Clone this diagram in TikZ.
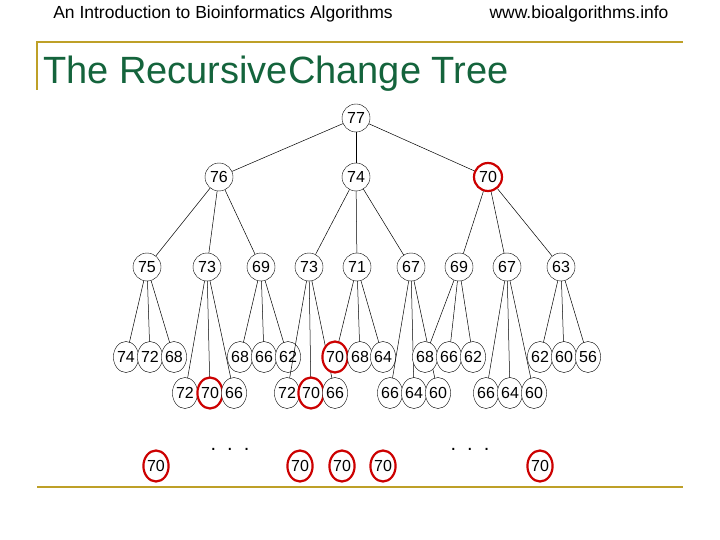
\documentclass[tikz,border=0pt]{standalone}
\usepackage{fontspec}
\setmainfont{Liberation Sans}
\usetikzlibrary{positioning}
\definecolor{olivebar}{RGB}{190,160,40}
\definecolor{titlegreen}{RGB}{20,100,60}
\tikzset{
  every node/.style={inner sep=0pt},
  big/.style={circle, draw, minimum size=28pt, font=\fontsize{16}{16}\selectfont},
  small/.style={ellipse, draw, minimum width=24pt, minimum height=31pt, font=\fontsize{16}{16}\selectfont},
  hit/.style={draw=red!80!black, line width=2.2pt},
  edge/.style={draw, line width=0.5pt}
}
\usetikzlibrary{shapes.geometric}
\begin{document}
\begin{tikzpicture}[x=1pt,y=-1pt]
  \useasboundingbox (0,0) rectangle (720,540);
  % header
  \node (head) at (223,14) {\fontsize{17.5}{17.5}\selectfont An Introduction to Bioinformatics Algorithms};
  \node (site) at (579,14) {\fontsize{17.5}{17.5}\selectfont www.bioalgorithms.info};
  \draw [olivebar, line width=2.5pt] (37,90) -- (37,42) -- (683,42);
  \node [anchor=west, text=titlegreen] (title) at (43,74) {\fontsize{38}{38}\selectfont The RecursiveChange Tree};
  \draw [olivebar, line width=2.5pt] (37,487) -- (683,487);
  % levels 0 and 1
  \node [big] (r) at (356,118) {77};
  \node [big] (a) at (219,177) {76};
  \node [big] (b) at (356,177) {74};
  \node [big, hit] (c) at (488,177) {70};
  \foreach \p in {a,b,c} \draw [edge] (r) -- (\p);
  % level 2
  \foreach \n/\x/\t/\p in {a1/147/75/a, a2/207/73/a, a3/261/69/a,
      b1/309/73/b, b2/357/71/b, b3/411/67/b,
      c1/459/69/c, c2/507/67/c, c3/561/63/c} {
    \node [big] (\n) at (\x,267) {\t};
    \draw [edge] (\p) -- (\n);
  }
  % level 3
  \foreach \n/\x/\y/\t/\p/\s in {
      a11/126/357/74/a1/, a12/150/357/72/a1/, a13/174/357/68/a1/,
      a21/185/393/72/a2/, a22/210/393/70/a2/hit, a23/234/393/66/a2/,
      a31/240/357/68/a3/, a32/264/357/66/a3/, a33/288/357/62/a3/,
      b11/287/393/72/b1/, b12/311/393/70/b1/hit, b13/335/393/66/b1/,
      b21/335/357/70/b2/hit, b22/360/357/68/b2/, b23/383/357/64/b2/,
      b31/390/393/66/b3/, b32/414/393/64/b3/, b33/438/393/60/b3/,
      c11/425/357/68/c1/, c12/449/357/66/c1/, c13/473/357/62/c1/,
      c21/486/393/66/c2/, c22/510/393/64/c2/, c23/534/393/60/c2/,
      c31/540/357/62/c3/, c32/564/357/60/c3/, c33/588/357/56/c3/} {
    \draw [edge] (\p) -- (\x,\y);
    \node [small, fill=white, \s] (\n) at (\x,\y) {\t};
  }
  % deeper leaves
  \foreach \n/\x in {d1/156, d2/300, d3/342, d4/383, d5/540}
    \node [small, hit] (\n) at (\x,466) {70};
  \node (dotsL) at (230,449) {\fontsize{20}{20}\selectfont .\ \ .\ \ .};
  \node (dotsR) at (470,449) {\fontsize{20}{20}\selectfont .\ \ .\ \ .};
\end{tikzpicture}
\end{document}
